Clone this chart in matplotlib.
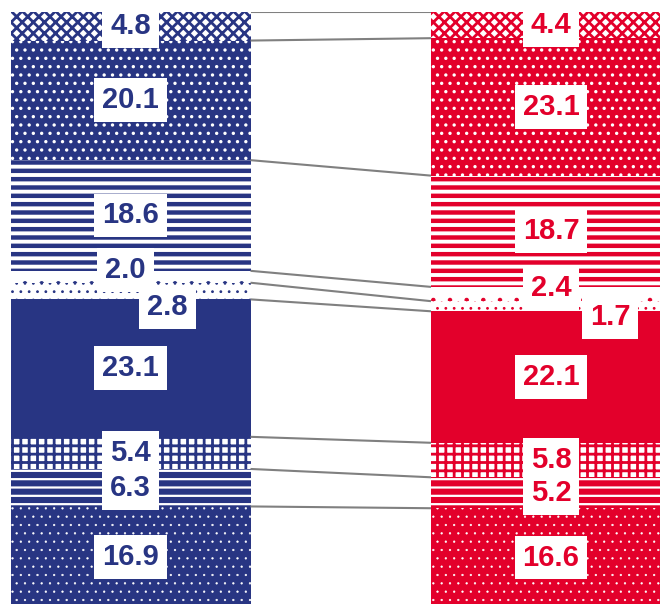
import matplotlib
matplotlib.use("Agg")
import matplotlib as mpl
import matplotlib.pyplot as plt
import numpy as np

# ---- data ----
bars = ["left", "right"]
left_values = [4.8, 20.1, 18.6, 2.0, 2.8, 23.1, 5.4, 6.3, 16.9]
right_values = [4.4, 23.1, 18.7, 2.4, 1.7, 22.1, 5.8, 5.2, 16.6]

# ---- style ----
BLUE = "#283583"
RED = "#E3002B"
bar_colors = [BLUE, RED]

# (hatch, hatch drawn in bar colour on white?, hatch linewidth in pt)
seg_styles = [
    ("xxx", True, 2.0),    # diamond / weave
    ("..", False, 1.2),    # white marks on colour
    ("--", True, 3.2),     # horizontal stripes
    (".", True, 0.8),      # sparse dots on white
    ("..", True, 0.8),     # denser dots on white
    (None, False, 0),      # solid
    ("++", True, 2.0),     # checker-ish
    ("--", False, 1.6),    # wavy lines
    ("..", False, 0.4),    # small white dots
]

# label offsets in pixels (dx right, dy down) for crowded segments
label_offsets = {(0, 3): (-5, -7), (0, 4): (37, 16), (1, 3): (0, -6), (1, 4): (59, 11)}

W, H = 660, 604
fig = plt.figure(figsize=(W / 100, H / 100), dpi=100)
top_px, px_per_unit = 12, 5.95
total = 100.0
ax_h = total * px_per_unit
ax = fig.add_axes([0, 1 - (top_px + ax_h) / H, 1, ax_h / H])
ax.set_ylim(total, 0)

centers_px = [130.5, 551.0]
unit = centers_px[1] - centers_px[0]
width = 240.0 / unit
ax.set_xlim(-centers_px[0] / unit, (W - centers_px[0]) / unit)
ax.axis("off")

font = dict(family=["Liberation Sans", "DejaVu Sans"], weight="bold", size=21)


def with_hatch_lw(artist, lw):
    orig = artist.draw

    def draw(renderer, _orig=orig, _lw=lw):
        with mpl.rc_context({"hatch.linewidth": _lw}):
            if hasattr(artist, "set_hatch_linewidth"):
                artist.set_hatch_linewidth(_lw)
            _orig(renderer)
    artist.draw = draw


all_values = [left_values, right_values]
for b, vals in enumerate(all_values):
    col = bar_colors[b]
    cum = np.concatenate([[0], np.cumsum(vals)])
    for i, v in enumerate(vals):
        hatch, on_white, hlw = seg_styles[i]
        if hatch is None:
            fc, ec = col, col
        elif on_white:
            fc, ec = "white", col
        else:
            fc, ec = col, "white"
        rects = ax.bar(b, v, bottom=cum[i], width=width, color=fc,
                       edgecolor=ec, linewidth=0, hatch=hatch, zorder=1)
        if hatch is not None:
            for r in rects:
                with_hatch_lw(r, hlw)
        dx, dy = label_offsets.get((b, i), (0, 0))
        ax.annotate(f"{v:.1f}", xy=(b, cum[i] + v / 2), xytext=(dx, -dy),
                    textcoords="offset pixels", ha="center", va="center",
                    color=col, zorder=5,
                    bbox=dict(boxstyle="square,pad=0.27", fc="white", ec="none"),
                    **font)

# connector lines between segment boundaries
cumL = np.concatenate([[0], np.cumsum(left_values)])
cumR = np.concatenate([[0], np.cumsum(right_values)])
for yl, yr in zip(cumL[:-1], cumR[:-1]):
    ax.plot([0 + width / 2, 1 - width / 2], [yl, yr], color="#808080",
            lw=1.5, zorder=3, solid_capstyle="butt")

fig.savefig("out.png", dpi=100)
